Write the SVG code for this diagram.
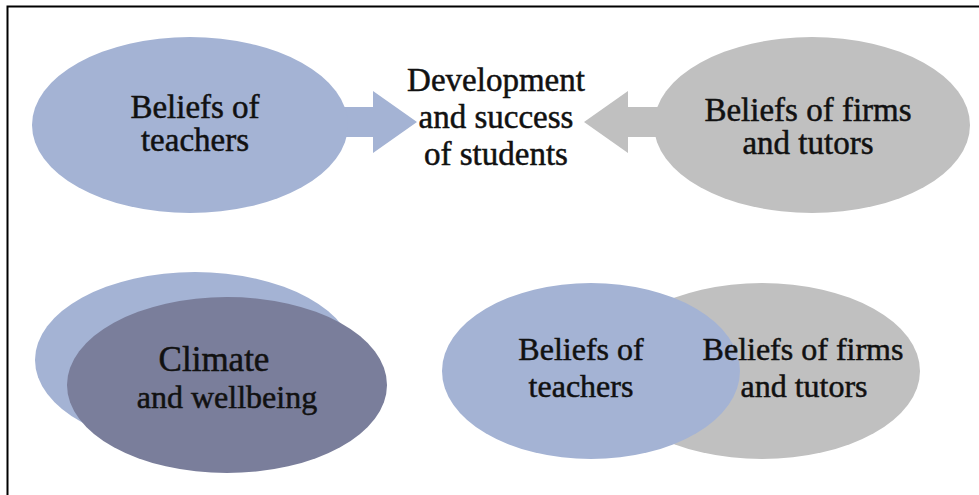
<svg xmlns="http://www.w3.org/2000/svg" width="979" height="495" viewBox="0 0 979 495">
  <style>
    .blue { fill: #A4B3D4; }
    .gray { fill: #C0C0C0; }
    .dark { fill: #7A7E9B; }
    text { font-family: 'Liberation Serif', 'DejaVu Serif', serif; font-size: 32px; fill: #111; stroke: #111; stroke-width: 0.5; text-anchor: middle; }
    .top text { font-size: 33px; }
    text.big { font-size: 35px; }
    .frame { stroke: #000; stroke-width: 2; fill: none; }
  </style>
  <rect width="979" height="495" fill="#fff"/>
  <path class="frame" d="M7.5,495 V6.5 H979"/>

  <g id="connectors">
    <path class="blue" d="M330,107 H373 V91 L417,122 L373,153 V137 H330 Z"/>
    <path class="gray" d="M670,107 H628 V91 L584,122 L628,153 V137 H670 Z"/>
  </g>

  <g id="teachers-top" class="top">
    <ellipse class="blue" cx="190" cy="125" rx="158" ry="88"/>
    <text x="195" y="118">Beliefs of</text>
    <text x="195" y="151">teachers</text>
  </g>

  <g id="development" class="top">
    <text x="496" y="91">Development</text>
    <text x="496" y="128">and success</text>
    <text x="496" y="165">of students</text>
  </g>

  <g id="firms-top" class="top">
    <ellipse class="gray" cx="812" cy="125" rx="158" ry="88"/>
    <text x="808" y="121">Beliefs of firms</text>
    <text x="808" y="154">and tutors</text>
  </g>

  <g id="climate">
    <ellipse class="blue" cx="195" cy="360" rx="160" ry="88"/>
    <ellipse class="dark" cx="227" cy="385" rx="160" ry="88"/>
    <text class="big" x="214" y="371">Climate</text>
    <text x="227" y="408">and wellbeing</text>
  </g>

  <g id="overlap">
    <ellipse class="gray" cx="762" cy="371" rx="158" ry="88"/>
    <ellipse class="blue" cx="591" cy="371" rx="149" ry="88"/>
    <text x="581" y="360">Beliefs of</text>
    <text x="581" y="397">teachers</text>
    <text x="803" y="360">Beliefs of firms</text>
    <text x="804" y="397">and tutors</text>
  </g>
</svg>
